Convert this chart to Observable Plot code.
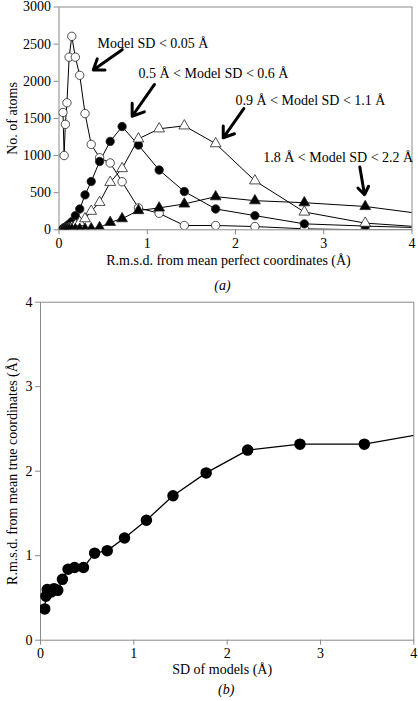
<!DOCTYPE html>
<html>
<head>
<meta charset="utf-8">
<script src="https://cdn.jsdelivr.net/npm/d3@7"></script>
<script src="https://cdn.jsdelivr.net/npm/@observablehq/plot@0.6"></script>
<style>
  html, body { margin: 0; padding: 0; background: #fff; }
  #wrap { position: relative; width: 418px; height: 701px; overflow: hidden; }
  #wrap svg { position: absolute; left: 0; }
</style>
</head>
<body>
<div id="wrap"></div>
<script>
// ---------- Data ----------
// x bins (Å), shared by both panels
const xBins = [0.045, 0.058, 0.072, 0.09, 0.115, 0.145, 0.185, 0.235, 0.295, 0.365, 0.46, 0.58, 0.715, 0.90, 1.135, 1.42, 1.775, 2.22, 2.78, 3.47, 4.34];

// Panel (a): number of atoms per r.m.s.d. bin
const sdBelow005 = [1580, 1000, 1420, 1710, 2325, 2605, 2325, 2080, 1565, 1150, 970, 900, 647, 295, 222, 58, 58, 44, 13, 0, 0];
const sd05to06   = [15, 20, 30, 50, 75, 110, 190, 280, 470, 650, 920, 1190, 1390, 1140, 805, 515, 281, 191, 80, 50, 20];
const sd09to11   = [0, 2, 5, 10, 20, 35, 60, 100, 150, 250, 370, 640, 825, 1225, 1360, 1400, 1160, 660, 240, 90, 20];
const sd18to22   = [0, 0, 0, 0, 2, 5, 5, 8, 10, 15, 30, 100, 150, 259, 295, 348, 446, 392, 365, 314, 180];

// Panel (b): r.m.s.d. from mean true coordinates vs SD of models
const rmsdTrue = [0.37, 0.52, 0.60, 0.57, 0.57, 0.61, 0.59, 0.72, 0.84, 0.86, 0.86, 1.03, 1.06, 1.21, 1.42, 1.71, 1.98, 2.25, 2.32, 2.32, 2.49];

// Tick labels
const xTicks = [0, 1, 2, 3, 4];
const yTicksA = [0, 500, 1000, 1500, 2000, 2500, 3000];
const yTicksB = [0, 1, 2, 3, 4];

// Annotations of panel (a): label anchor and arrow (data units)
const annotations = [
  {label: "Model SD < 0.05 Å",         lx: 0.436, ly: 2505, x1: 0.716, y1: 2425, x2: 0.388, y2: 2153},
  {label: "0.5 Å < Model SD < 0.6 Å",  lx: 0.90,  ly: 2104, x1: 1.082, y1: 1957, x2: 0.829, y2: 1529},
  {label: "0.9 Å < Model SD < 1.1 Å",  lx: 2.00,  ly: 1742, x1: 2.094, y1: 1632, x2: 1.861, y2: 1239},
  {label: "1.8 Å < Model SD < 2.2 Å",  lx: 2.314, ly: 980,  x1: 3.409, y1: 847,  x2: 3.462, y2: 472}
];

const titleA_x = "R.m.s.d. from mean perfect coordinates (Å)";
const titleA_y = "No. of atoms";
const captionA = "(a)";
const titleB_x = "SD of models (Å)";
const titleB_y = "R.m.s.d. from mean true coordinates (Å)";
const captionB = "(b)";

// ---------- Build tables ----------
const seriesA = [
  {key: "s1", values: sdBelow005, symbol: "circle",   fill: "white"},
  {key: "s2", values: sd05to06,   symbol: "circle",   fill: "black"},
  {key: "s3", values: sd09to11,   symbol: "triangle", fill: "white"},
  {key: "s4", values: sd18to22,   symbol: "triangle", fill: "black"}
];
const rowsA = seriesA.flatMap(s => s.values.map((v, i) => ({key: s.key, x: xBins[i], y: v, symbol: s.symbol, fill: s.fill})));
const rowsB = rmsdTrue.map((v, i) => ({x: xBins[i], y: v}));

const FONT = "'Liberation Serif', 'Times New Roman', serif";
const FS = 14;
const baseStyle = {fontFamily: FONT, fontSize: FS + "px", color: "black", background: "transparent", overflow: "visible"};
const GRAY = "#8a8a8a";
const txt = {fill: "black", fontFamily: FONT, fontSize: FS};

// ---------- Panel (a) ----------
const plotA = Plot.plot({
  width: 418, height: 300,
  marginTop: 6.5, marginLeft: 58.5, marginRight: 6.5, marginBottom: 70.7,
  style: baseStyle,
  x: {domain: [0, 4]},
  y: {domain: [0, 3000]},
  marks: [
    Plot.frame({stroke: GRAY}),
    Plot.axisX({ticks: xTicks, tickSize: 5, tickPadding: 3, stroke: GRAY, label: null, tickFormat: d => String(d), ...txt}),
    Plot.axisY({ticks: yTicksA, tickSize: 5, tickPadding: 3, stroke: GRAY, label: null, tickFormat: d => String(d), ...txt}),
    Plot.line(rowsA, {x: "x", y: "y", z: "key", stroke: "black", strokeWidth: 1, clip: true}),
    Plot.dot(rowsA.filter(d => d.symbol === "circle"), {x: "x", y: "y", r: 4.2, symbol: "circle", fill: "fill", stroke: "#222", strokeWidth: 0.8, clip: true}),
    Plot.dot(rowsA.filter(d => d.symbol === "triangle"), {x: "x", y: "y", r: 4, symbol: "triangle", fill: "fill", stroke: "#222", strokeWidth: 0.8, clip: true}),
    Plot.arrow(annotations, {x1: "x1", y1: "y1", x2: "x2", y2: "y2", stroke: "black", strokeWidth: 3, headLength: 9, headAngle: 70, bend: 0}),
    Plot.text(annotations, {x: "lx", y: "ly", text: "label", textAnchor: "start", ...txt}),
    Plot.text([titleA_x], {text: d => d, frameAnchor: "bottom", textAnchor: "middle", dx: -7, dy: 35, ...txt}),
    Plot.text([titleA_y], {text: d => d, frameAnchor: "left", textAnchor: "middle", dx: -46, rotate: -90, ...txt}),
    Plot.text([captionA], {text: d => d, frameAnchor: "bottom", textAnchor: "middle", dx: -13, dy: 60, fontStyle: "italic", ...txt})
  ]
});
plotA.style.top = "0px";

// ---------- Panel (b) ----------
const plotB = Plot.plot({
  width: 418, height: 411,
  marginTop: 11.7, marginLeft: 40, marginRight: 4.7, marginBottom: 61.3,
  style: baseStyle,
  x: {domain: [0, 4]},
  y: {domain: [0, 4]},
  marks: [
    Plot.frame({stroke: GRAY}),
    Plot.axisX({ticks: xTicks, tickSize: 5, tickPadding: 3, stroke: GRAY, label: null, tickFormat: d => String(d), ...txt}),
    Plot.axisY({ticks: yTicksB, tickSize: 5, tickPadding: 3, stroke: GRAY, label: null, tickFormat: d => String(d), ...txt}),
    Plot.line(rowsB, {x: "x", y: "y", stroke: "black", strokeWidth: 1.3, clip: true}),
    Plot.dot(rowsB, {x: "x", y: "y", r: 5, fill: "black", stroke: "black", clip: true}),
    Plot.text([titleB_x], {text: d => d, frameAnchor: "bottom", textAnchor: "middle", dx: -5, dy: 34, ...txt}),
    Plot.text([titleB_y], {text: d => d, frameAnchor: "left", textAnchor: "middle", dx: -28, rotate: -90, ...txt}),
    Plot.text([captionB], {text: d => d, frameAnchor: "bottom", textAnchor: "middle", dx: -1, dy: 54, fontStyle: "italic", ...txt})
  ]
});
plotB.style.top = "290px";

const wrap = document.getElementById("wrap");
wrap.appendChild(plotA);
wrap.appendChild(plotB);
</script>
</body>
</html>
